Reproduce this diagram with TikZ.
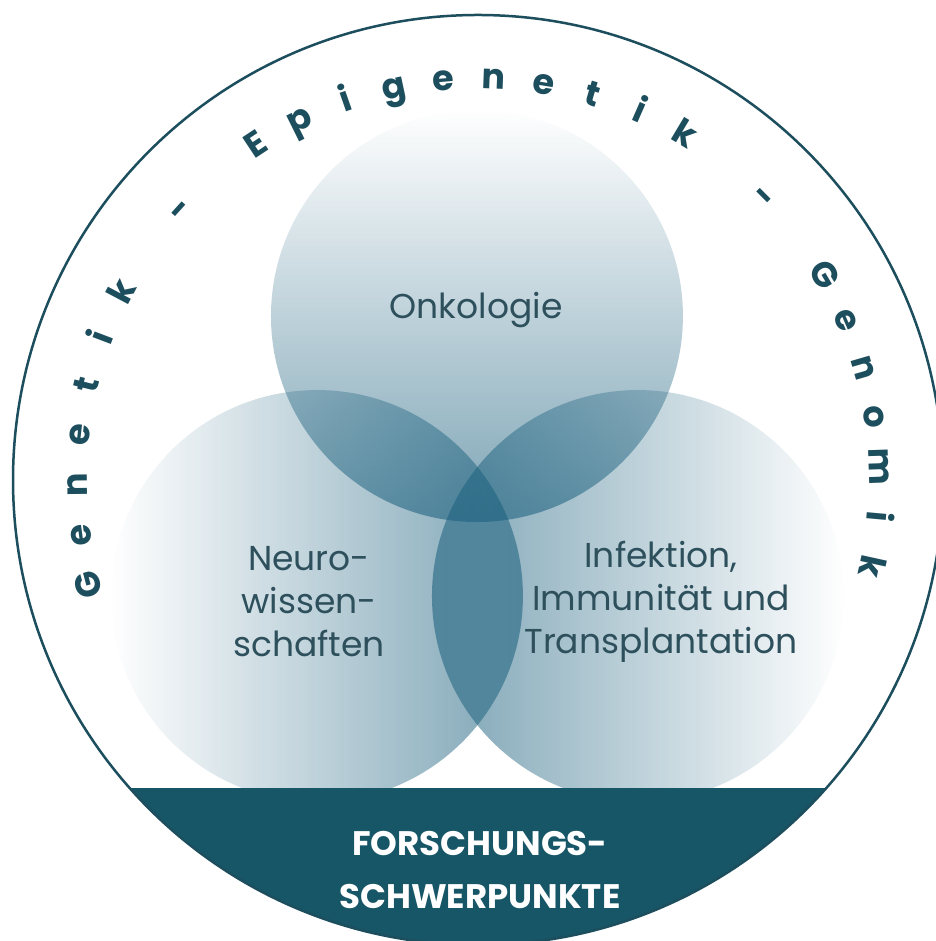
\documentclass[tikz,border=0pt]{standalone}
\usepackage{fontspec}
\setmainfont{Poppins}
\usetikzlibrary{fadings}

\definecolor{petrol}{RGB}{23,86,102}
\definecolor{fieldtint}{RGB}{24,94,124}
\definecolor{ringink}{RGB}{28,78,94}
\definecolor{labelink}{RGB}{45,80,92}

% opacity ramps for the three research circles
\tikzfading[name=rampright, left color=transparent!100, right color=transparent!44]
\tikzfading[name=rampleft, left color=transparent!44, right color=transparent!100]
\tikzfading[name=rampdown, top color=transparent!100, bottom color=transparent!44]

\tikzset{
  ringletter/.style={text=ringink, font=\fontsize{35}{35}\selectfont\bfseries, inner sep=0pt},
  fieldlabel/.style={text=labelink, font=\fontsize{34.5}{43}\selectfont, align=center, inner sep=0pt},
  bandlabel/.style={text=white, font=\fontsize{34}{53}\selectfont\bfseries, align=center, inner sep=0pt}
}

\begin{document}
\begin{tikzpicture}[x=1pt,y=1pt]
\useasboundingbox (0,0) rectangle (935,941);
\fill[white] (0,0) rectangle (935,941);

% three overlapping fields
\fill[fieldtint, path fading=rampdown] (477,625) circle[radius=206pt];
\fill[fieldtint, path fading=rampright] (317,345) circle[radius=206pt];
\fill[fieldtint, path fading=rampleft] (638,345) circle[radius=206pt];

% bottom band inside the outer ring
\begin{scope}
  \clip (478,461) circle[radius=465pt];
  \fill[petrol] (-10,-20) rectangle (960,153);
\end{scope}

% outer ring
\draw[ringink, line width=2.5pt] (478,461) circle[radius=465pt];

% lettering around the ring
\foreach \ch [count=\i from 0] in {G,e,n,e,t,i,k,{},-,{},E,p,i,g,e,n,e,t,i,k,{},-,{},G,e,n,o,m,i,k} {
  \pgfmathsetmacro\ang{195-\i*7.15}
  \pgfmathsetmacro\rot{\ang-90}
  \node[ringletter, rotate=\rot, anchor=base] (r\i) at ({478+391*cos(\ang)},{461+391*sin(\ang)}) {\ch};
}

% field labels
\node[fieldlabel] (onko) at (476,631) {Onkologie};
\node[fieldlabel] (neuro) at (309,339) {Neuro-\\wissen-\\schaften};
\node[fieldlabel] (infekt) at (661,339) {Infektion,\\Immunität und\\Transplantation};
\node[bandlabel] (band) at (480,71) {FORSCHUNGS-\\SCHWERPUNKTE};
\end{tikzpicture}
\end{document}
